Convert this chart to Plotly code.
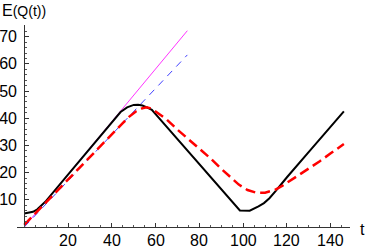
import plotly.graph_objects as go

# ---- data ----
black_t = [0, 2, 4, 6, 8, 10, 20, 30, 40, 44, 47, 50, 52, 54, 56, 58.3, 60, 70, 80, 90, 95, 97, 98.5, 103, 105, 107, 109.5, 112, 115, 120, 130, 140, 146]
black_v = [5.0, 5.2, 5.6, 6.5, 7.9, 9.6, 19.3, 28.9, 38.5, 42.3, 44.0, 44.9, 45.0, 44.7, 44.0, 43.1, 41.5, 32.2, 22.9, 13.6, 9.0, 7.3, 6.1, 6.0, 6.7, 7.6, 8.8, 10.6, 13.4, 18.3, 27.6, 36.9, 42.5]

red_t = [0, 10, 20, 30, 40, 45, 48, 51, 54, 56, 58, 60, 65, 70, 75, 80, 85, 90, 94, 98, 102, 106, 110, 114.6, 118, 122, 126, 130.6, 135, 140, 146]
red_v = [0.8, 9.2, 17.4, 25.8, 34.2, 38.2, 40.6, 42.5, 43.7, 44.0, 43.6, 42.4, 39.6, 35.8, 32.4, 29.0, 25.3, 21.4, 18.4, 15.6, 13.6, 12.6, 12.6, 13.7, 15.2, 17.3, 19.3, 21.6, 24.2, 27.1, 30.5]

magenta_t = [0, 74.5]
magenta_v = [0, 72.2]

blue_t = [0, 74.5]
blue_v = [0, 63.3]

x_ticks = [20, 40, 60, 80, 100, 120, 140]
y_ticks = [10, 20, 30, 40, 50, 60, 70]

x_range = [-3.3, 148.8]
y_range = [0, 74.3]

fig = go.Figure()
fig.add_trace(go.Scatter(x=magenta_t, y=magenta_v, mode="lines",
                         line=dict(color="#ff33ff", width=1)))
fig.add_trace(go.Scatter(x=blue_t, y=blue_v, mode="lines",
                         line=dict(color="#4040ff", width=1, dash="7px,6px")))
fig.add_trace(go.Scatter(x=black_t, y=black_v, mode="lines",
                         line=dict(color="black", width=2)))
fig.add_trace(go.Scatter(x=red_t, y=red_v, mode="lines",
                         line=dict(color="#ff0000", width=2.5, dash="10px,5px")))

font = dict(family="Liberation Sans, Arial, sans-serif", size=16, color="black")

annotations = [
    dict(text="E<span style='font-size:14px'>(Q(t))</span>", xref="paper", yref="paper",
         x=-17 / 333, y=1 + 25 / 202, xanchor="left", yanchor="top",
         showarrow=False, font=font),
    dict(text="t", xref="paper", yref="paper",
         x=(362 - 17) / 333, y=-2 / 202, xanchor="center", yanchor="middle",
         showarrow=False, font=font),
]
for xt in x_ticks:
    annotations.append(dict(text=str(xt), xref="x", yref="paper", x=xt, y=-3 / 202,
                            xanchor="center", yanchor="top", showarrow=False, font=font))

fig.update_layout(
    width=368, height=249,
    margin=dict(l=17, r=18, t=25, b=22),
    paper_bgcolor="white", plot_bgcolor="white",
    showlegend=False,
    font=font,
    xaxis=dict(range=x_range, showgrid=False, zeroline=False,
               showline=True, linecolor="#333", linewidth=1,
               tickmode="array", tickvals=x_ticks, showticklabels=False,
               ticks="inside", ticklen=4, tickcolor="#333", tickwidth=1,
               minor=dict(tickmode="linear", tick0=0, dtick=5, ticks="inside",
                          ticklen=2, tickcolor="#555"),
               automargin=False),
    yaxis=dict(range=y_range, showgrid=False, zeroline=False,
               anchor="free", position=3.3 / (148.8 + 3.3),
               showline=True, linecolor="#333", linewidth=1,
               tickmode="array", tickvals=y_ticks,
               ticks="inside", ticklen=4, tickcolor="#333", tickwidth=1,
               ticklabelstandoff=4,
               minor=dict(tickmode="linear", tick0=0, dtick=2, ticks="inside",
                          ticklen=2, tickcolor="#555"),
               automargin=False, tickfont=font),
    annotations=annotations,
)

fig.write_html("out.html",
               config={"displayModeBar": False},
               post_script="document.body.style.margin='0';document.body.style.overflow='hidden';")
